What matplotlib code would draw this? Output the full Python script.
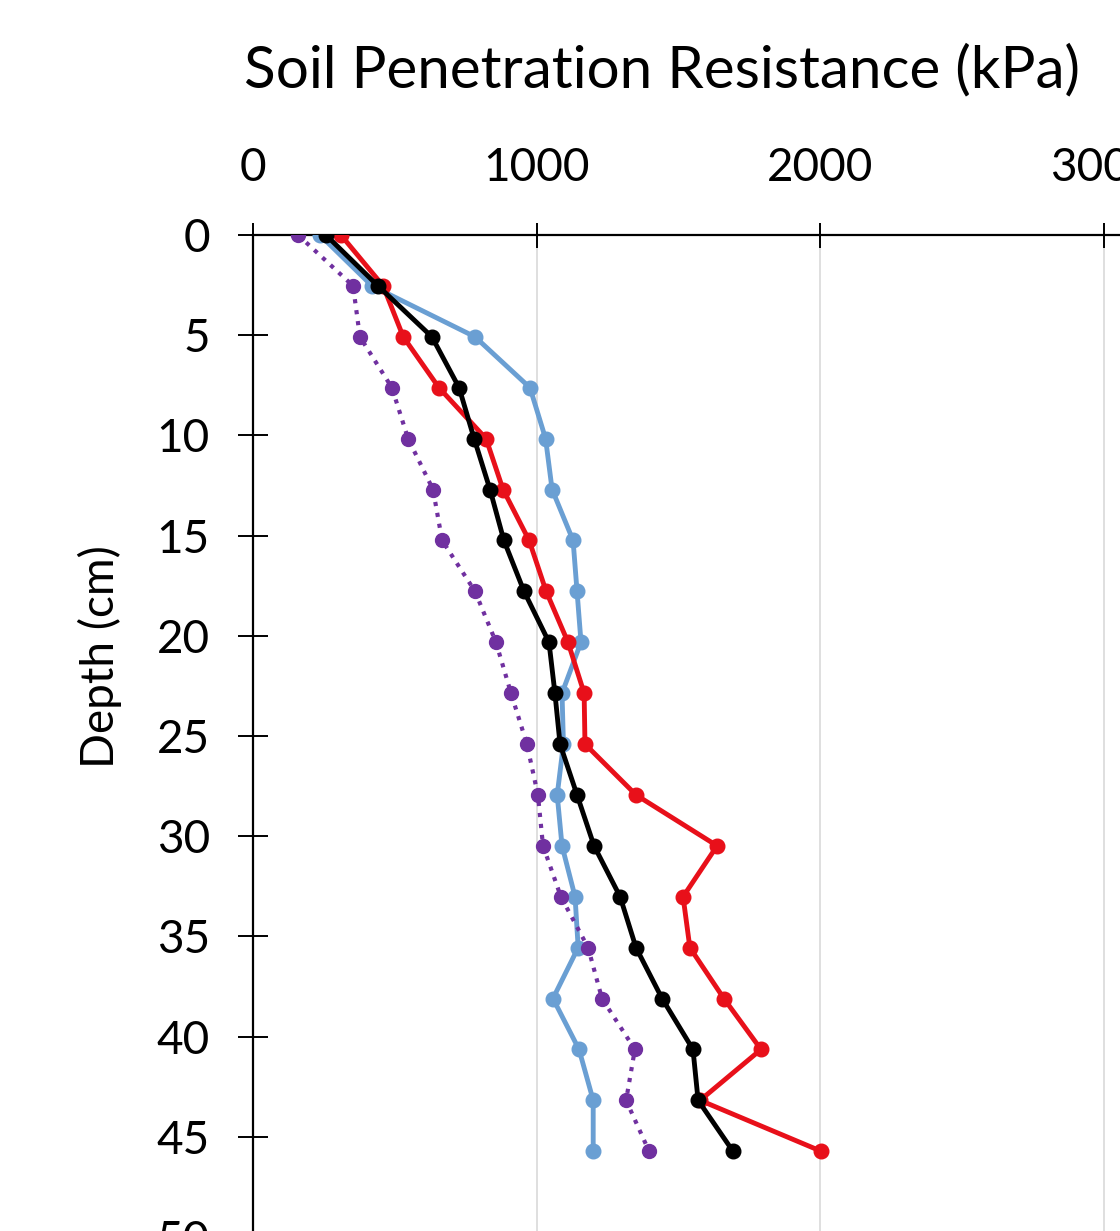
import matplotlib.pyplot as plt

# depth readings every inch (2.54 cm)
depth = [0, 2.54, 5.08, 7.62, 10.16, 12.7, 15.24, 17.78, 20.32, 22.86,
         25.4, 27.94, 30.48, 33.02, 35.56, 38.1, 40.64, 43.18, 45.72]

blue = [236, 420, 783, 977, 1032, 1055, 1129, 1143, 1157, 1090,
        1095, 1073, 1090, 1136, 1147, 1058, 1150, 1200, 1200]
red = [310, 459, 530, 656, 822, 882, 974, 1034, 1111, 1168,
       1171, 1351, 1637, 1517, 1541, 1661, 1792, 1577, 2004]
black = [257, 441, 631, 727, 780, 836, 885, 956, 1044, 1065,
         1083, 1143, 1203, 1295, 1351, 1443, 1552, 1570, 1693]
purple = [159, 353, 377, 490, 547, 635, 667, 783, 857, 910,
          966, 1005, 1023, 1086, 1182, 1231, 1347, 1316, 1397]

xticks = [0, 1000, 2000, 3000]
yticks = list(range(0, 65, 5))

plt.rcParams['font.family'] = ['Lato', 'DejaVu Sans']

W, H = 1120, 1231
fig = plt.figure(figsize=(W / 100, H / 100), dpi=100)

# axes run past the figure edge, like the cropped original
x0, y0 = 253, 235
px_per_k = 283.5
px_per_cm = 20.04
xmax, ymax = 4000, 60
ax = fig.add_axes([x0 / W, 1 - (y0 + ymax * px_per_cm) / H,
                   xmax / 1000 * px_per_k / W, ymax * px_per_cm / H])

ax.plot(blue, depth, color='#6A9FD3', lw=3.5, marker='o', ms=10.5, zorder=3)
ax.plot(purple, depth, color='#7030A0', lw=3, ls=':', marker='o', ms=10, zorder=3)
ax.plot(red, depth, color='#E8101A', lw=3.5, marker='o', ms=10.5, zorder=4)
ax.plot(black, depth, color='black', lw=3.5, marker='o', ms=10.5, zorder=5)

ax.set_xlim(0, xmax)
ax.set_ylim(ymax, 0)
ax.set_xticks(xticks)
ax.set_yticks(yticks)
ax.xaxis.tick_top()
ax.xaxis.grid(True, color='#D9D9D9', lw=1.2)
ax.set_axisbelow(True)

for s in ['right', 'bottom']:
    ax.spines[s].set_visible(False)
for s in ['left', 'top']:
    ax.spines[s].set_linewidth(1.6)

ax.tick_params(axis='x', direction='inout', length=18, width=1.4, pad=24, labelsize=33)
ax.tick_params(axis='y', direction='inout', length=22, width=1.4, pad=20, labelsize=33)

fig.text(662 / W, 1 - 71 / H, 'Soil Penetration Resistance (kPa)',
         ha='center', va='center', fontsize=42)
fig.text(100 / W, 1 - 657 / H, 'Depth (cm)', ha='center', va='center',
         rotation=90, fontsize=33)

fig.savefig('out.png', dpi=100)
